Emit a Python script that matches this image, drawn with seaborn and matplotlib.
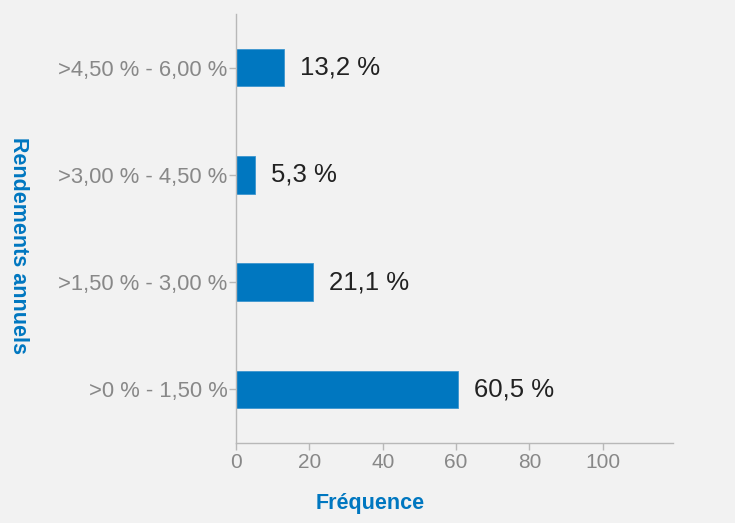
import matplotlib.pyplot as plt
import pandas as pd
import seaborn as sns

# categories listed top to bottom as shown on the chart
categories = [">4,50 % - 6,00 %", ">3,00 % - 4,50 %", ">1,50 % - 3,00 %", ">0 % - 1,50 %"]
frequencies = [13.2, 5.3, 21.1, 60.5]
value_labels = ["13,2 %", "5,3 %", "21,1 %", "60,5 %"]
x_ticks = [0, 20, 40, 60, 80, 100]

df = pd.DataFrame({"rendement": categories, "frequence": frequencies})

sns.set_theme(style="white")
plt.rcParams["font.family"] = ["Liberation Sans", "DejaVu Sans"]

bg = "#f2f2f2"
blue = "#0077c0"
axis_grey = "#b8b8b8"

fig = plt.figure(figsize=(7.35, 5.23), dpi=100, facecolor=bg)
ax = fig.add_axes([0.321, 0.153, 0.594, 0.820])
ax.set_facecolor(bg)

sns.barplot(data=df, x="frequence", y="rendement", order=categories,
            color=blue, saturation=1, width=0.35, edgecolor="#3d96cf",
            linewidth=0.6, ax=ax)

ax.bar_label(ax.containers[0], labels=value_labels, padding=11.5,
             fontsize=18.5, color="#222222")

ax.set_xlim(0, 119)
ax.set_ylim(3.5, -0.5)
ax.set_xticks(x_ticks)

for side in ["top", "right"]:
    ax.spines[side].set_visible(False)
for side in ["left", "bottom"]:
    ax.spines[side].set_color(axis_grey)
    ax.spines[side].set_linewidth(1)

ax.tick_params(axis="both", which="major", length=5, width=1, color=axis_grey,
               labelcolor="#888888", bottom=True, left=True)
ax.tick_params(axis="y", labelsize=15.8, pad=1)
ax.tick_params(axis="x", labelsize=15, length=5, pad=2)

ax.set_xlabel("Fréquence", fontsize=15.5, fontweight="bold", color=blue)
ax.set_ylabel("Rendements annuels", fontsize=15.5, fontweight="bold", color=blue,
              rotation=270, va="center", ha="center")
ax.xaxis.set_label_coords(0.307, -0.14)
ax.xaxis.label.set_va("center")
ax.yaxis.set_label_coords(-0.499, 0.46)

fig.savefig("out.png", dpi=100, facecolor=bg)
